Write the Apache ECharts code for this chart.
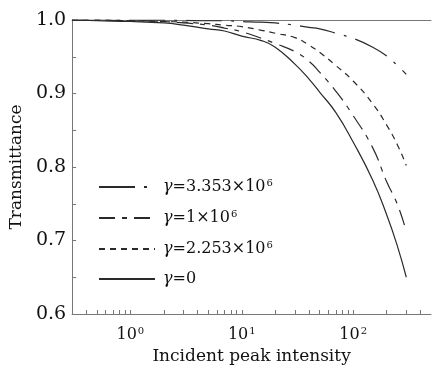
<!DOCTYPE html>
<html>
<head>
<meta charset="utf-8">
<script src="https://cdn.jsdelivr.net/npm/echarts@6/dist/echarts.min.js"></script>
<style>
  html, body { margin: 0; padding: 0; background: #fff; }
  #chart { width: 433px; height: 370px; }
</style>
</head>
<body>
<div id="chart"></div>
<script>
// incident peak intensity (log axis)
const intensity = [0.3, 0.5, 1, 2, 3, 5, 7, 10, 15, 20, 30, 40, 50, 70, 100, 150, 200, 250, 300];

// transmittance per gamma
const tGamma0     = [1.000, 0.999, 0.998, 0.996, 0.993, 0.988, 0.985, 0.978, 0.972, 0.963, 0.940, 0.920, 0.902, 0.874, 0.834, 0.782, 0.735, 0.692, 0.650];
const tGamma1e6   = [1.000, 1.000, 0.999, 0.998, 0.996, 0.993, 0.989, 0.984, 0.975, 0.968, 0.957, 0.944, 0.929, 0.903, 0.870, 0.826, 0.780, 0.749, 0.712];
const tGamma2253  = [1.000, 1.000, 0.999, 0.998, 0.997, 0.995, 0.993, 0.991, 0.986, 0.982, 0.976, 0.966, 0.956, 0.938, 0.917, 0.886, 0.857, 0.830, 0.802];
const tGamma3353  = [1.000, 1.000, 1.000, 1.000, 0.9995, 0.999, 0.999, 0.998, 0.997, 0.996, 0.993, 0.990, 0.988, 0.982, 0.975, 0.963, 0.951, 0.938, 0.926];

const legendNames = ["3.353", "1", "2.253", "0"];
const legendLabels = {
  "3.353": "{g|γ}=3.353×10{sup|6}",
  "1": "{g|γ}=1×10{sup|6}",
  "2.253": "{g|γ}=2.253×10{sup|6}",
  "0": "{g|γ}=0"
};

const xTicks = [0.3, 0.4, 0.5, 0.6, 0.7, 0.8, 0.9, 1, 2, 3, 4, 5, 6, 7, 8, 9,
  10, 20, 30, 40, 50, 60, 70, 80, 90, 100, 200, 300, 400];
const xLabels = [1, 10, 100];

const FONT = "DejaVu Serif";
const INK = "#2a2a2a";
const TXT = "#111";
const AXIS = "#777";

const pairs = (ys) => intensity.map((x, i) => [x, ys[i]]);

const chart = echarts.init(document.getElementById("chart"));

const makeLine = (name, ys, dash) => ({
  name: name,
  type: "line",
  data: pairs(ys),
  symbol: "none",
  smooth: true,
  lineStyle: { color: INK, width: 1.2, type: dash },
  itemStyle: { color: INK }
});

const richText = {
  g: { fontFamily: FONT, fontStyle: "italic", fontSize: 16, color: TXT },
  sup: { fontFamily: FONT, fontSize: 10, verticalAlign: "top", padding: [0, 0, 8, 1], color: TXT }
};

chart.setOption({
  animation: false,
  backgroundColor: "#fff",
  grid: { left: 70, right: 2, top: 20, bottom: 53 },
  legend: {
    data: legendNames,
    orient: "vertical",
    left: 93,
    top: 173,
    itemWidth: 56,
    itemHeight: 10,
    itemGap: 14,
    itemStyle: { opacity: 0, borderWidth: 0 },
    formatter: (n) => legendLabels[n],
    textStyle: {
      fontFamily: FONT,
      fontSize: 16,
      color: TXT,
      padding: [0, 0, 0, 3],
      rich: richText
    }
  },
  xAxis: [
    {
      type: "log",
      logBase: 10,
      min: 0.3,
      max: 500,
      name: "Incident peak intensity",
      nameLocation: "middle",
      nameGap: 34,
      nameTextStyle: { fontFamily: FONT, fontSize: 17, color: TXT },
      axisLine: { lineStyle: { color: AXIS, width: 1 } },
      axisTick: { inside: true, length: 4, lineStyle: { color: AXIS }, customValues: xTicks },
      axisLabel: {
        customValues: xLabels,
        margin: 12,
        fontFamily: FONT,
        fontSize: 16,
        color: TXT,
        formatter: (v) => "10{sup|" + Math.round(Math.log10(v)) + "}",
        rich: richText
      },
      splitLine: { show: false },
      minorTick: { show: false }
    },
    {
      type: "log",
      logBase: 10,
      min: 0.3,
      max: 500,
      position: "top",
      axisLine: { lineStyle: { color: AXIS, width: 1 } },
      axisTick: { show: false },
      axisLabel: { show: false },
      splitLine: { show: false }
    }
  ],
  yAxis: {
    type: "value",
    min: 0.6,
    max: 1.0,
    interval: 0.1,
    name: "Transmittance",
    nameLocation: "middle",
    nameGap: 45,
    nameTextStyle: { fontFamily: FONT, fontSize: 17, color: TXT },
    axisLine: { show: true, lineStyle: { color: AXIS, width: 1 } },
    axisTick: { show: true, inside: true, length: 4, lineStyle: { color: AXIS } },
    minorTick: { show: true, splitNumber: 2, length: 4, lineStyle: { color: AXIS } },
    axisLabel: {
      fontFamily: FONT,
      fontSize: 19,
      color: TXT,
      margin: 6,
      formatter: (v) => v.toFixed(1)
    },
    splitLine: { show: false }
  },
  series: [
    makeLine("3.353", tGamma3353, [36, 9, 3, 9]),
    makeLine("1", tGamma1e6, [16, 7, 5, 7]),
    makeLine("2.253", tGamma2253, [6, 5]),
    makeLine("0", tGamma0, "solid")
  ]
});
</script>
</body>
</html>
